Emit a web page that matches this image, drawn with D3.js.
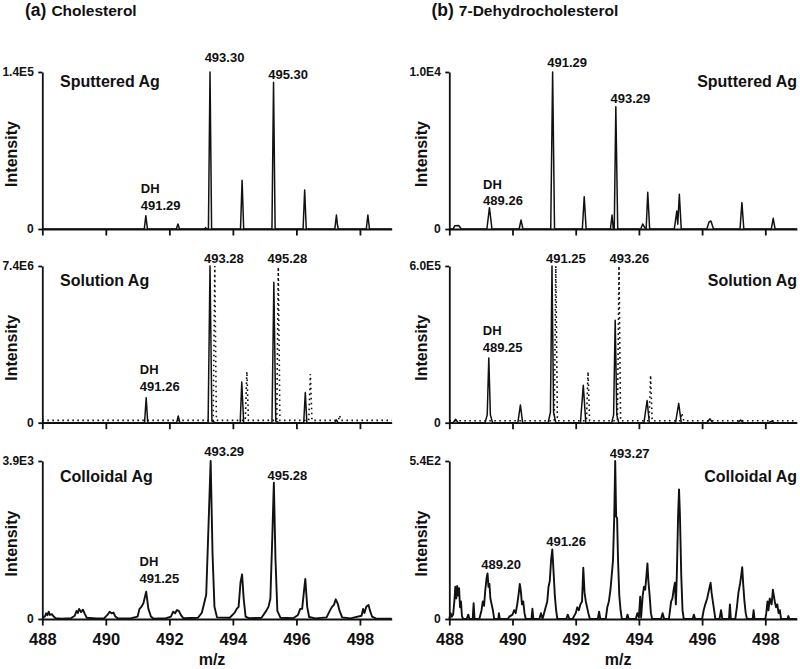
<!DOCTYPE html>
<html><head><meta charset="utf-8">
<script src="https://cdn.jsdelivr.net/npm/d3@7"></script>
<style>
body{margin:0;background:#fff}
text{font-family:"Liberation Sans",Arial,sans-serif;font-weight:bold;fill:#111}
</style>
</head><body><svg id="c" width="800" height="669"></svg>
<script>
// ---------- data ----------
const xTicks = [488, 490, 492, 494, 496, 498];
const xDomain = [488, 499];
const panelNames = ["Sputtered Ag", "Solution Ag", "Colloidal Ag"];
const compoundLetters = ["(a)", "(b)"];
const compoundNames = ["Cholesterol", "7-Dehydrocholesterol"];
const yMaxLabelsA = ["1.4E5", "7.4E6", "3.9E3"];
const yMaxLabelsB = ["1.0E4", "6.0E5", "5.4E2"];
const yMaxA = [1.4e5, 7.4e6, 3.9e3];
const yMaxB = [1.0e4, 6.0e5, 5.4e2];

// (a) Cholesterol, sputtered Ag  [m/z, intensity]
const cholSputtered = [[488,0],[491.21,0],[491.26,11900],[491.31,0],[492.22,0],[492.27,4500],[492.32,0],
 [493.10,0],[493.14,1200],[493.18,0],[493.23,0],[493.28,140000],[493.33,0],[494.24,0],[494.29,43400],[494.34,0],
 [495.23,0],[495.28,130800],[495.33,0],[496.21,0],[496.26,34800],[496.31,0],[497.21,0],[497.26,12500],[497.29,4000],[497.32,0],
 [498.20,0],[498.25,12500],[498.30,0],[499,0]];
// (a) Cholesterol, solution Ag (measured, solid) and dotted trace
const cholSolution = [[488,0],[491.22,0],[491.27,1.18e6],[491.32,0],[492.23,0],[492.28,3.2e5],[492.33,0],
 [493.22,0],[493.28,7.4e6],[493.34,8e4],[493.44,0],[494.23,0],[494.28,1.92e6],[494.34,0],
 [495.23,0],[495.29,6.63e6],[495.35,8e4],[495.44,0],[496.23,0],[496.28,1.43e6],[496.33,0],
 [497.21,0],[497.26,1.3e5],[497.31,0],[499,0]];
const cholSolutionDot = [[488,1.1e5],[493.38,1.1e5],[493.43,7.4e6],[493.48,1.1e5],[494.39,1.1e5],[494.44,2.41e6],[494.49,1.1e5],
 [495.38,1.1e5],[495.43,7.35e6],[495.48,1.1e5],[496.39,1.1e5],[496.44,2.3e6],[496.49,1.1e5],
 [497.32,1.1e5],[497.36,3.5e5],[497.40,1.1e5],[499,1.1e5]];
// (a) Cholesterol, colloidal Ag
const cholColloidal = [[488,20],[488.08,60],[488.12,140],[488.16,90],[488.2,180],[488.24,100],[488.3,120],[488.36,60],[488.42,20],
 [488.6,10],[488.9,20],[489.02,80],[489.08,200],[489.12,150],[489.16,250],[489.22,170],[489.28,230],[489.34,120],[489.4,30],
 [489.7,15],[489.95,20],[490.05,100],[490.12,180],[490.18,140],[490.24,160],[490.3,60],[490.38,15],[490.8,20],
 [491.0,60],[491.06,250],[491.12,300],[491.18,380],[491.27,675],[491.34,250],[491.42,60],[491.5,10],
 [491.9,20],[492.05,60],[492.12,180],[492.18,140],[492.24,220],[492.3,200],[492.36,100],[492.44,20],
 [492.9,30],[493.02,150],[493.1,400],[493.16,600],[493.22,2000],[493.3,3900],[493.36,1600],[493.42,300],[493.5,40],
 [493.9,30],[494.05,150],[494.12,250],[494.18,300],[494.24,900],[494.29,1100],[494.34,500],[494.4,60],[494.5,20],
 [494.9,30],[495.05,200],[495.12,300],[495.18,500],[495.24,2000],[495.29,3365],[495.34,1500],[495.4,200],[495.5,30],
 [495.9,20],[496.05,100],[496.12,250],[496.18,250],[496.24,700],[496.28,990],[496.34,300],[496.4,50],[496.6,15],
 [496.95,40],[497.05,200],[497.12,300],[497.18,350],[497.24,485],[497.3,380],[497.36,200],[497.44,40],[497.7,15],
 [498.05,80],[498.1,250],[498.14,150],[498.2,300],[498.27,345],[498.32,200],[498.38,60],[498.5,15],[499,10]];

// (b) 7-Dehydrocholesterol, sputtered Ag
const dhcSputtered = [[488,0],[488.12,0],[488.17,200],[488.3,220],[488.38,0],[489.19,0],[489.27,1360],[489.35,0],
 [490.21,0],[490.27,570],[490.33,0],[491.21,0],[491.27,10000],[491.33,0],[492.21,0],[492.27,2060],[492.33,0],
 [493.10,0],[493.15,890],[493.19,0],[493.22,0],[493.27,7790],[493.33,0],[494.06,0],[494.12,320],[494.18,100],[494.23,0],[494.28,2340],[494.34,0],
 [495.12,0],[495.2,1150],[495.23,300],[495.28,2210],[495.34,0],[496.15,0],[496.22,450],[496.28,510],[496.36,0],
 [497.2,0],[497.26,1680],[497.32,0],[498.19,0],[498.25,680],[498.31,0],[499,0]];
// (b) 7-Dehydrocholesterol, solution Ag (solid) and dotted trace
const dhcSolution = [[488,0],[488.12,0],[488.2,1.3e4],[488.28,0],[489.13,0],[489.2,3e4],[489.25,2.48e5],[489.3,3e4],[489.37,0],
 [490.17,0],[490.25,6.8e4],[490.32,0],[491.13,0],[491.2,4e4],[491.25,6.0e5],[491.3,4e4],[491.37,0],
 [492.15,0],[492.24,1.43e5],[492.32,0],[493.14,0],[493.2,3e4],[493.25,3.92e5],[493.3,3e4],[493.36,0],
 [494.16,0],[494.26,8.5e4],[494.33,0],[495.16,0],[495.26,7.4e4],[495.34,0],[496.15,0],[496.25,1.5e4],[496.33,0],
 [497.12,0],[497.22,1e4],[497.3,0],[498.1,0],[498.2,6e3],[498.28,0],[499,0]];
const dhcSolutionDot = [[488,7.6e3],[491.32,7.6e3],[491.37,6.0e5],[491.42,7.6e3],[492.34,7.6e3],[492.39,1.95e5],[492.44,7.6e3],
 [493.32,7.6e3],[493.37,6.0e5],[493.42,7.6e3],[494.32,7.6e3],[494.37,1.82e5],[494.42,7.6e3],
 [495.3,7.6e3],[495.36,3.7e4],[495.42,7.6e3],[499,7.6e3]];
// (b) 7-Dehydrocholesterol, colloidal Ag
const dhcColloidal = [[488,0],[488.04,20],[488.08,8],[488.12,15],[488.16,60],[488.19,110],[488.22,70],[488.25,113],[488.28,80],[488.31,105],
 [488.34,40],[488.37,60],[488.4,10],[488.44,0],[488.55,0],[488.6,15],[488.64,0],[488.74,0],[488.77,54],[488.8,0],[488.95,0],
 [489.02,30],[489.06,60],[489.1,45],[489.14,100],[489.18,140],[489.21,156],[489.24,110],[489.27,120],[489.3,70],[489.34,50],[489.38,30],[489.42,0],
 [489.55,0],[489.57,20],[489.6,0],[489.85,0],[489.9,8],[490.0,15],[490.05,30],[490.1,20],[490.15,50],[490.2,90],[490.23,120],[490.26,100],
 [490.3,50],[490.34,60],[490.38,20],[490.42,0],[490.6,0],[490.63,35],[490.66,0],[490.85,0],[490.9,20],[490.95,0],
 [491.05,40],[491.1,60],[491.14,110],[491.18,130],[491.22,200],[491.26,238],[491.3,160],[491.34,80],[491.38,30],[491.42,0],
 [491.7,0],[491.75,15],[491.8,0],[491.9,0],[492.0,20],[492.05,40],[492.1,30],[492.15,50],[492.2,60],[492.24,175],[492.28,90],
 [492.32,60],[492.36,40],[492.4,20],[492.45,0],[492.7,0],[492.74,25],[492.78,0],[492.95,0],
 [493.0,40],[493.05,60],[493.1,100],[493.14,150],[493.18,200],[493.22,350],[493.25,540],[493.28,350],[493.31,345],[493.34,200],[493.38,80],[493.42,30],[493.46,0],
 [493.6,0],[493.64,15],[493.68,0],[493.9,0],[493.95,20],[494.0,5],[494.04,76],[494.07,5],[494.12,80],[494.16,110],[494.2,100],[494.24,150],
 [494.27,190],[494.3,130],[494.34,80],[494.38,20],[494.42,0],[494.7,0],[494.75,20],[494.8,0],[494.95,0],
 [495.02,60],[495.06,70],[495.1,100],[495.14,124],[495.17,50],[495.2,150],[495.24,350],[495.27,443],[495.3,350],[495.34,150],[495.38,30],[495.42,0],
 [495.7,0],[495.74,15],[495.78,0],[496.0,0],[496.05,30],[496.1,50],[496.16,70],[496.2,90],[496.24,110],[496.27,124],[496.3,90],
 [496.34,60],[496.38,30],[496.42,0],[496.55,0],[496.6,30],[496.64,0],[496.85,0],[496.88,50],[496.91,0],
 [497.05,0],[497.1,40],[497.15,90],[497.2,120],[497.24,150],[497.27,177],[497.3,120],[497.34,60],[497.38,20],[497.42,0],
 [497.6,0],[497.63,30],[497.66,0],[498.0,0],[498.03,20],[498.07,60],[498.1,30],[498.14,70],[498.2,50],[498.24,100],[498.27,80],
 [498.3,60],[498.34,40],[498.38,50],[498.42,20],[498.46,30],[498.5,0],[498.7,0],[498.73,10],[498.76,0],[499,0]];

// peak annotations: [lines, m/z, intensity at label baseline]
const cholSputteredLabels = [[["DH","491.29"],491.29,1.7e4],[["493.30"],493.30,1.49e5],[["495.30"],495.30,1.34e5]];
const cholSolutionLabels = [[["DH","491.26"],491.26,1.5e6],[["493.28"],493.28,7.55e6],[["495.28"],495.28,7.55e6]];
const cholColloidalLabels = [[["DH","491.25"],491.25,890],[["493.29"],493.29,4.02e3],[["495.28"],495.28,3.43e3]];
const dhcSputteredLabels = [[["DH","489.26"],489.26,1.5e3],[["491.29"],491.29,1.03e4],[["493.29"],493.29,8.0e3]];
const dhcSolutionLabels = [[["DH","489.25"],489.25,2.72e5],[["491.25"],491.25,6.1e5],[["493.26"],493.26,6.1e5]];
const dhcColloidalLabels = [[["489.20"],489.20,170],[["491.26"],491.26,250],[["493.27"],493.27,550]];

// ---------- layout ----------
const colRange = [[42.3, 391.7], [449.3, 796.9]];
const rowRange = [[229, 72], [422.7, 266], [619, 461]];

const panels = [
  {c:0,r:0,solid:cholSputtered,dot:null,labels:cholSputteredLabels,max:yMaxA[0],maxLabel:yMaxLabelsA[0]},
  {c:0,r:1,solid:cholSolution,dot:cholSolutionDot,labels:cholSolutionLabels,max:yMaxA[1],maxLabel:yMaxLabelsA[1]},
  {c:0,r:2,solid:cholColloidal,dot:null,labels:cholColloidalLabels,max:yMaxA[2],maxLabel:yMaxLabelsA[2]},
  {c:1,r:0,solid:dhcSputtered,dot:null,labels:dhcSputteredLabels,max:yMaxB[0],maxLabel:yMaxLabelsB[0]},
  {c:1,r:1,solid:dhcSolution,dot:dhcSolutionDot,labels:dhcSolutionLabels,max:yMaxB[1],maxLabel:yMaxLabelsB[1]},
  {c:1,r:2,solid:dhcColloidal,dot:null,labels:dhcColloidalLabels,max:yMaxB[2],maxLabel:yMaxLabelsB[2]}
];

const svg = d3.select("#c");

// column titles
[0,1].forEach(c => {
  const x0 = c === 0 ? 25 : 431.5;
  const t = svg.append("text").attr("x", x0).attr("y", 16);
  t.append("tspan").attr("font-size", 17.5).text(compoundLetters[c]);
  t.append("tspan").attr("font-size", 15.5).attr("dx", 5).text(compoundNames[c]);
});

panels.forEach(p => {
  const x = d3.scaleLinear().domain(xDomain).range(colRange[p.c]);
  const y = d3.scaleLinear().domain([0, p.max]).range(rowRange[p.r]);
  const g = svg.append("g");

  // x axis
  const xa = g.append("g").attr("transform", `translate(0,${rowRange[p.r][0]})`)
    .call(d3.axisBottom(x).tickValues(xTicks).tickSize(6.5).tickSizeOuter(0).tickPadding(8)
      .tickFormat(p.r === 2 ? d3.format("d") : () => ""));
  xa.selectAll("path,line").attr("stroke", "#111").attr("stroke-width", 1.8);
  xa.selectAll("text").attr("font-size", 16.5).attr("font-family", null).attr("fill", "#111");

  // y axis
  const ya = g.append("g").attr("transform", `translate(${colRange[p.c][0]},0)`)
    .call(d3.axisLeft(y).tickValues([0, p.max]).tickSize(4).tickSizeOuter(0).tickPadding(4.5)
      .tickFormat((d, i) => i === 0 ? "0" : p.maxLabel));
  ya.selectAll("path,line").attr("stroke", "#111").attr("stroke-width", 1.8);
  ya.selectAll("text").attr("font-size", 12).attr("font-family", null).attr("fill", "#111");

  const line = d3.line().x(d => x(d[0])).y(d => y(d[1]));
  if (p.dot) {
    g.append("path").datum(p.dot).attr("d", line).attr("fill", "none")
      .attr("stroke", "#111").attr("stroke-width", 1.6).attr("stroke-dasharray", "1.6,3.4");
  }
  g.append("path").datum(p.solid).attr("d", line).attr("fill", "none")
    .attr("stroke", "#111").attr("stroke-width", p.r === 2 ? 1.9 : 1.5).attr("stroke-linejoin", "round");

  // panel name
  const nameX = p.c === 0 ? 60 : 797;
  g.append("text").attr("x", nameX).attr("y", (p.r === 0 ? 81 : p.r === 1 ? 280 : 476) + 5.7)
    .attr("text-anchor", p.c === 0 ? "start" : "end").attr("font-size", 16).text(panelNames[p.r]);

  // Intensity label
  const yMid = (rowRange[p.r][0] + rowRange[p.r][1]) / 2 + 3.5;
  g.append("text").attr("transform", `translate(${p.c === 0 ? 17 : 427},${yMid}) rotate(-90)`)
    .attr("text-anchor", "middle").attr("font-size", 16).text("Intensity");

  // peak labels
  p.labels.forEach(([lines, mz, at]) => {
    const n = lines.length;
    lines.forEach((s, i) => {
      g.append("text").attr("x", x(mz) - 6).attr("y", y(at) - (n - 1 - i) * 16.5)
        .attr("font-size", 13).text(s);
    });
  });

  if (p.r === 2) {
    g.append("text").attr("x", (colRange[p.c][0] + colRange[p.c][1]) / 2 - 5).attr("y", 665)
      .attr("text-anchor", "middle").attr("font-size", 16).text("m/z");
  }
});
</script>
</body></html>
